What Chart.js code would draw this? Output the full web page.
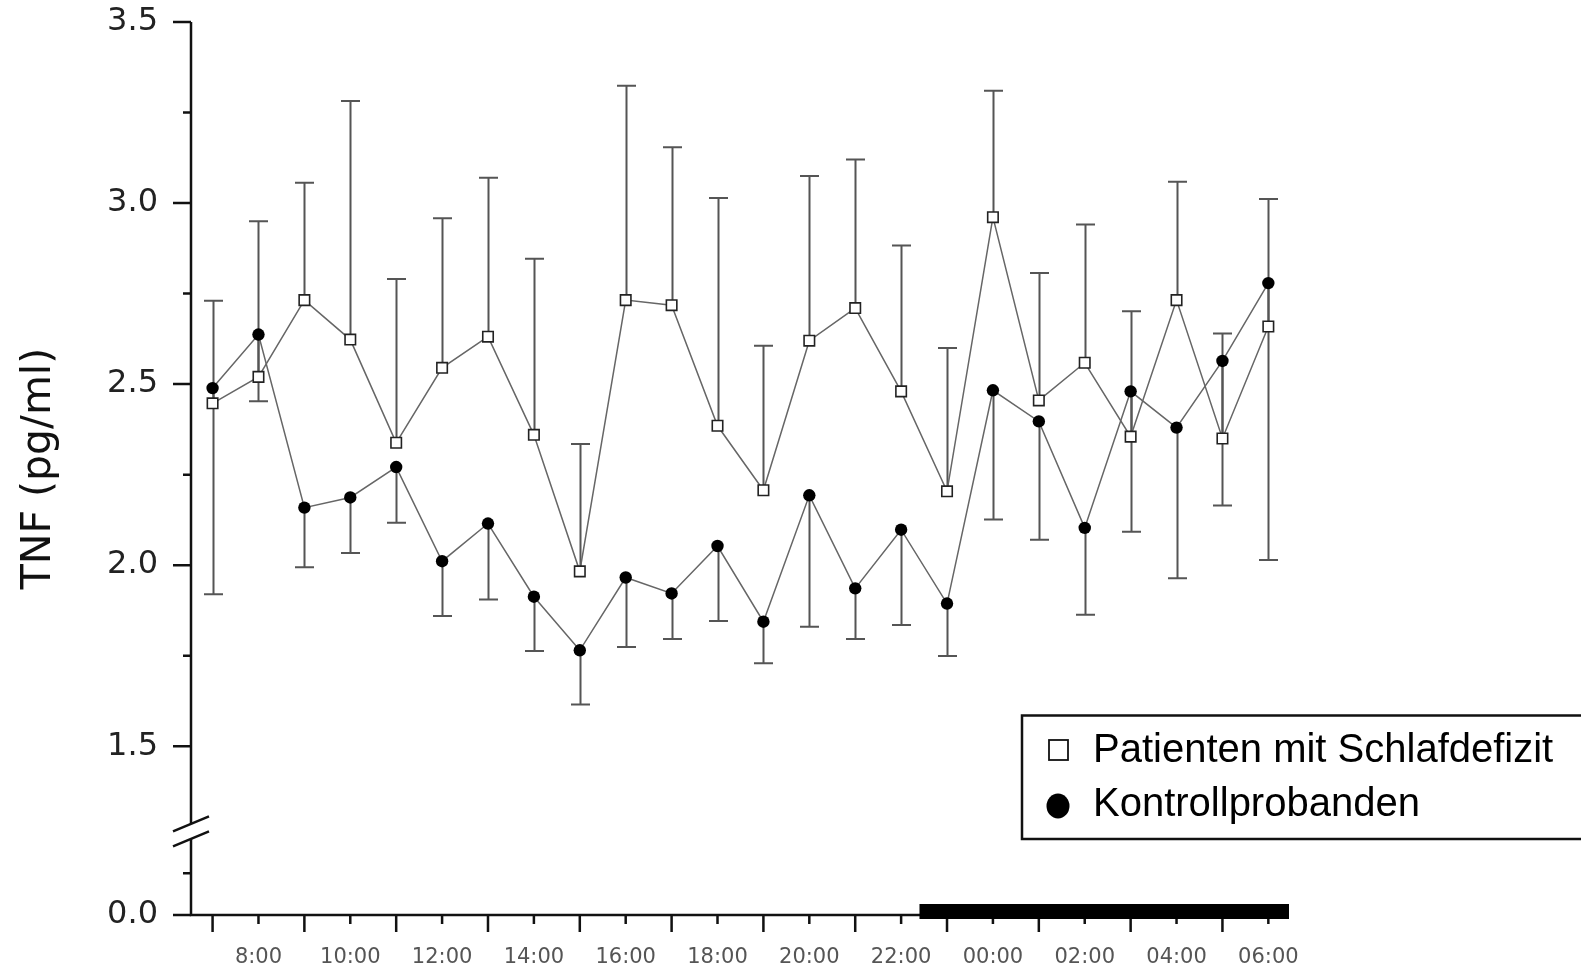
<!DOCTYPE html>
<html><head><meta charset="utf-8">
<script src="https://cdn.jsdelivr.net/npm/chart.js@4.4.1/dist/chart.umd.min.js"></script>
<style>html,body{margin:0;padding:0;background:#fff;overflow:hidden}</style>
</head><body>
<canvas id="c" width="1581" height="971"></canvas>
<script>
// ---- data ----
const timeLabels = ['7:00','8:00','9:00','10:00','11:00','12:00','13:00','14:00','15:00','16:00','17:00','18:00',
                    '19:00','20:00','21:00','22:00','23:00','00:00','01:00','02:00','03:00','04:00','05:00','06:00'];
const xTickLabels = ['','8:00','','10:00','','12:00','','14:00','','16:00','','18:00',
                     '','20:00','','22:00','','00:00','','02:00','','04:00','','06:00'];
const patientMean  = [2.447,2.520,2.732,2.623,2.338,2.545,2.631,2.360,1.983,2.732,2.718,2.385,
                      2.207,2.620,2.710,2.480,2.204,2.961,2.455,2.559,2.355,2.732,2.350,2.659];
const patientUpper = [2.730,2.950,3.056,3.282,2.790,2.958,3.070,2.846,2.335,3.324,3.154,3.014,
                      2.606,3.075,3.120,2.883,2.600,3.310,2.807,2.941,2.701,3.059,2.640,3.011];
const controlMean  = [2.489,2.637,2.159,2.187,2.271,2.011,2.115,1.913,1.765,1.966,1.922,2.053,
                      1.844,2.193,1.936,2.098,1.894,2.483,2.397,2.103,2.480,2.380,2.564,2.779];
const controlLower = [1.920,2.453,1.994,2.034,2.117,1.860,1.905,1.763,1.615,1.774,1.796,1.846,
                      1.729,1.830,1.796,1.835,1.749,2.126,2.070,1.863,2.092,1.964,2.165,2.014];
const yTickValues = [1.5, 2.0, 2.5, 3.0, 3.5];
const yMinorTickValues = [1.75, 2.25, 2.75, 3.25];
const seriesNames = ['Patienten mit Schlafdefizit', 'Kontrollprobanden'];
const yTitle = 'TNF (pg/ml)';
const zeroLabel = '0.0';
// broken axis: the "0.0" of the lower segment sits at this value of the axis
const Y_ZERO = 1.034;
const Y_LOWER_MINOR = 1.149;
const Y_BREAK = 1.265;
const sleepStart = 15.4, sleepEnd = 23.45; // in hours after 7:00

const AX = '#111', GR = '#555';

const drawPlugin = {
  id: 'custom',
  beforeDatasetsDraw(chart) {
    const {ctx, scales: {x, y}} = chart;
    ctx.save();
    ctx.strokeStyle = GR; ctx.lineWidth = 2;
    const cap = 9.5;
    const bar = (i, v0, v1) => {
      const px = Math.round(x.getPixelForValue(i)) + 0.5;
      const p0 = y.getPixelForValue(v0), p1 = y.getPixelForValue(v1);
      ctx.beginPath();
      ctx.moveTo(px, p0); ctx.lineTo(px, p1);
      ctx.moveTo(px - cap, p1); ctx.lineTo(px + cap, p1);
      ctx.stroke();
    };
    patientMean.forEach((m, i) => bar(i, m, patientUpper[i]));
    controlMean.forEach((m, i) => bar(i, m, controlLower[i]));
    ctx.restore();
  },
  afterDraw(chart) {
    const {ctx, chartArea: ca, scales: {x, y}} = chart;
    ctx.save();
    ctx.strokeStyle = AX; ctx.lineWidth = 2.5; ctx.lineCap = 'butt';
    const ax = ca.left, ay = ca.bottom;
    // axis lines
    ctx.beginPath();
    ctx.moveTo(ax, ca.top); ctx.lineTo(ax, ay);
    ctx.moveTo(ax - 1.25, ay); ctx.lineTo(ca.right, ay);
    ctx.stroke();
    // y ticks
    ctx.beginPath();
    [Y_ZERO, ...yTickValues].forEach(v => { const p = y.getPixelForValue(v); ctx.moveTo(ax - 18, p); ctx.lineTo(ax, p); });
    [Y_LOWER_MINOR, ...yMinorTickValues].forEach(v => { const p = y.getPixelForValue(v); ctx.moveTo(ax - 8, p); ctx.lineTo(ax, p); });
    // x ticks (odd hours long, even hours short)
    timeLabels.forEach((t, i) => {
      const p = x.getPixelForValue(i);
      ctx.moveTo(p, ay); ctx.lineTo(p, ay + (i % 2 === 0 ? 17 : 9));
    });
    ctx.stroke();
    // axis break
    const pb = y.getPixelForValue(Y_BREAK);
    const sl = 15 / 36;
    ctx.fillStyle = '#fff';
    ctx.beginPath();
    ctx.moveTo(ax - 18, pb - 7.5 + 18 * sl); ctx.lineTo(ax + 18, pb - 7.5 - 18 * sl);
    ctx.lineTo(ax + 18, pb + 7.5 - 18 * sl); ctx.lineTo(ax - 18, pb + 7.5 + 18 * sl);
    ctx.closePath(); ctx.fill();
    ctx.beginPath();
    ctx.moveTo(ax - 18, pb - 7.5 + 18 * sl); ctx.lineTo(ax + 18, pb - 7.5 - 18 * sl);
    ctx.moveTo(ax - 18, pb + 7.5 + 18 * sl); ctx.lineTo(ax + 18, pb + 7.5 - 18 * sl);
    ctx.stroke();
    // sleep bar
    const s0 = x.getPixelForValue(sleepStart), s1 = x.getPixelForValue(sleepEnd);
    ctx.fillStyle = '#000';
    ctx.fillRect(s0, ay - 11, s1 - s0, 15);
    // legend
    ctx.lineWidth = 2.5; ctx.strokeStyle = AX;
    ctx.strokeRect(1022, 715.5, 600, 123.5);
    ctx.lineWidth = 1.8; ctx.strokeStyle = '#111';
    ctx.fillStyle = '#fff';
    ctx.fillRect(1049, 740, 19, 20); ctx.strokeRect(1049, 740, 19, 20);
    ctx.fillStyle = '#000';
    ctx.beginPath(); ctx.ellipse(1058, 806, 11.5, 12.5, 0, 0, Math.PI * 2); ctx.fill();
    ctx.font = '40px "Liberation Sans", Arial, sans-serif';
    ctx.textBaseline = 'middle'; ctx.textAlign = 'left';
    ctx.fillText(seriesNames[0], 1093, 751);
    ctx.fillText(seriesNames[1], 1093, 805);
    ctx.restore();
  }
};

new Chart(document.getElementById('c'), {
  type: 'line',
  data: {
    datasets: [
      { label: seriesNames[0], data: patientMean.map((v, i) => ({x: i, y: v})),
        borderColor: '#666', borderWidth: 1.5, pointStyle: 'rect', pointRadius: 7.4,
        pointBackgroundColor: '#fff', pointBorderColor: '#222', pointBorderWidth: 1.6, tension: 0, order: 1 },
      { label: seriesNames[1], data: controlMean.map((v, i) => ({x: i, y: v})),
        borderColor: '#666', borderWidth: 1.5, pointStyle: 'circle', pointRadius: 6.2,
        pointBackgroundColor: '#000', pointBorderColor: '#000', pointBorderWidth: 0, tension: 0, order: 2 }
    ]
  },
  options: {
    responsive: false, animation: false, devicePixelRatio: 1,
    layout: {padding: {top: 22, right: 292, left: 0, bottom: 0}},
    plugins: {legend: {display: false}, tooltip: {enabled: false}},
    scales: {
      x: {
        type: 'linear', min: -0.47, max: 23.45,
        grid: {display: false, drawTicks: false}, border: {display: false},
        afterBuildTicks: s => { s.ticks = timeLabels.map((_, i) => ({value: i})); },
        afterFit: s => { s.height = 56; s.paddingLeft = 0; s.paddingRight = 0; },
        ticks: {autoSkip: false, maxRotation: 0, padding: 30, color: '#555',
                font: {family: 'DejaVu Sans', size: 21},
                callback: v => xTickLabels[v] ?? ''}
      },
      y: {
        type: 'linear', min: Y_ZERO, max: 3.5,
        grid: {display: false, drawTicks: false}, border: {display: false},
        afterBuildTicks: s => { s.ticks = [Y_ZERO, ...yTickValues].map(v => ({value: v})); },
        afterFit: s => { s.width = 191; s.paddingTop = 0; s.paddingBottom = 0; },
        ticks: {padding: 33, color: '#222', font: {family: 'DejaVu Sans', size: 32},
                callback: v => v < 1.4 ? zeroLabel : v.toFixed(1)},
        title: {display: true, text: yTitle, color: '#111',
                font: {family: 'DejaVu Sans', size: 41}, padding: {top: 15, bottom: 0}}
      }
    }
  },
  plugins: [drawPlugin]
});
</script>
</body></html>
